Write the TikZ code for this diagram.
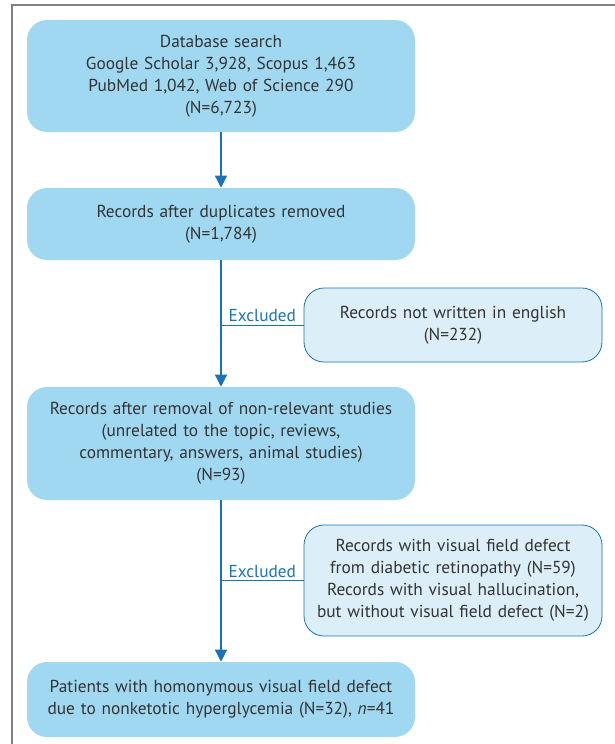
\documentclass[tikz,border=0pt]{standalone}
\usepackage{fontspec}
\setmainfont{PT Sans}
\usetikzlibrary{arrows.meta,positioning}
\definecolor{main-color}{HTML}{A0D8F2}
\definecolor{side-color}{HTML}{DCEFF9}
\definecolor{line-color}{HTML}{1A73B8}
\definecolor{text-color}{HTML}{333333}
\tikzset{
  stage/.style={fill=main-color, rounded corners=15pt, align=center,
    minimum width=291pt, text width=285pt, inner sep=0pt, text=text-color,
    font=\fontsize{13}{16.5}\selectfont},
  dropped/.style={fill=side-color, draw=line-color, line width=0.6pt,
    rounded corners=15pt, align=center, minimum width=223.5pt,
    text width=218pt, inner sep=0pt, text=text-color,
    font=\fontsize{13}{16.5}\selectfont},
  flow/.style={draw=line-color, line width=0.9pt,
    -{Triangle[width=9pt,length=9pt]}},
  branch/.style={draw=line-color, line width=0.7pt},
  tag/.style={text=line-color, font=\fontsize{13}{14}\selectfont, inner sep=2pt}
}

\begin{document}
\begin{tikzpicture}[x=0.75pt, y=-0.75pt]
  \useasboundingbox (0,0) rectangle (615,744);
  \draw[gray, line width=1pt] (12,744) -- (12,5) -- (615,5);

  \node[stage, minimum height=84pt] (search) at (221,76)
    {Database search\\ Google Scholar 3,928, Scopus 1,463\\
     PubMed 1,042, Web of Science 290\\ (N=6,723)};
  \node[stage, minimum height=54pt] (dedup) at (221,224)
    {Records after duplicates removed\\ (N=1,784)};
  \node[dropped, minimum height=55.5pt] (english) at (453,325)
    {Records not written in english\\ (N=232)};
  \node[stage, minimum height=84.75pt] (relevant) at (221,443.5)
    {Records after removal of non-relevant studies\\
     (unrelated to the topic, reviews,\\
     commentary, answers, animal studies)\\ (N=93)};
  \node[dropped, minimum height=83.25pt] (diabetic) at (453,580.5)
    {Records with visual field defect\\ from diabetic retinopathy (N=59)\\
     Records with visual hallucination,\\ but without visual field defect (N=2)};
  \node[stage, minimum height=56.25pt] (final) at (221,699.5)
    {Patients with homonymous visual field defect\\
     due to nonketotic hyperglycemia (N=32), \textit{n}=41};

  % main flow
  \draw[flow] (search) -- (dedup);
  \draw[flow] (dedup) -- (relevant);
  \draw[flow] (relevant) -- (final);

  % exclusions
  \coordinate (cut1) at (english.west -| dedup.south);
  \coordinate (cut2) at (diabetic.west -| relevant.south);
  \draw[branch] (cut1) -- node[tag, above] {Excluded} (english.west);
  \draw[branch] (cut2) -- node[tag, above] {Excluded} (diabetic.west);
\end{tikzpicture}
\end{document}
